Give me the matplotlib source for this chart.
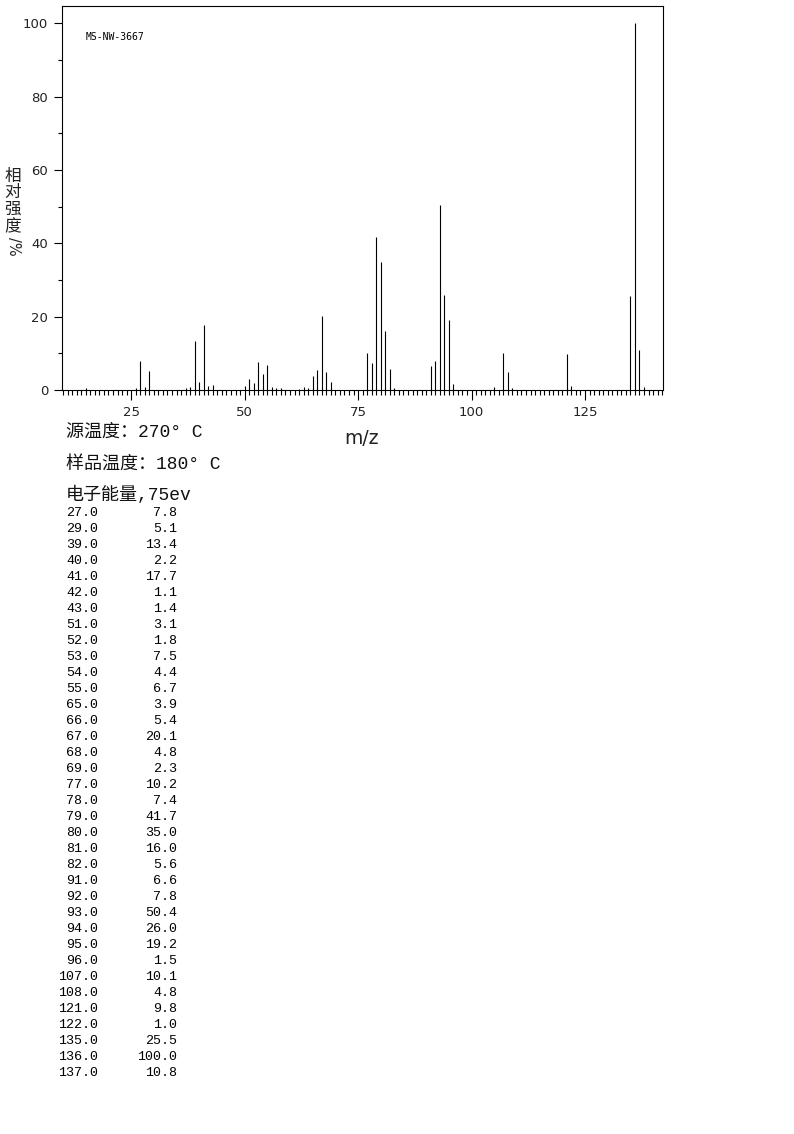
import numpy as np
import matplotlib
matplotlib.use("Agg")
import matplotlib.pyplot as plt
from matplotlib.ticker import MultipleLocator

# ---- data ----
mz_listed = [27, 29, 39, 40, 41, 42, 43, 51, 52, 53, 54, 55, 65, 66, 67, 68, 69,
             77, 78, 79, 80, 81, 82, 91, 92, 93, 94, 95, 96, 107, 108, 121, 122,
             135, 136, 137]
int_listed = [7.8, 5.1, 13.4, 2.2, 17.7, 1.1, 1.4, 3.1, 1.8, 7.5, 4.4, 6.7, 3.9,
              5.4, 20.1, 4.8, 2.3, 10.2, 7.4, 41.7, 35.0, 16.0, 5.6, 6.6, 7.8,
              50.4, 26.0, 19.2, 1.5, 10.1, 4.8, 9.8, 1.0, 25.5, 100.0, 10.8]
# small unlisted peaks
mz_minor = [15, 26, 28, 37, 38, 50, 56, 57, 58, 62, 63, 64, 83, 105, 109, 138]
int_minor = [0.6, 0.5, 0.7, 0.5, 0.8, 1.0, 0.7, 0.5, 0.5, 0.4, 0.8, 0.5, 0.6,
             0.8, 0.5, 0.7]

sample_id = "MS-NW-3667"
header_lines = ["源温度：270° C", "样品温度：180° C", "电子能量,75ev"]
xlabel = "m/z"
ylabel_cjk = ["相", "对", "强", "度"]
ylabel_unit = "/%"

W, H = 794, 1134
fig = plt.figure(figsize=(W / 100, H / 100), dpi=100)


def fx(x):
    return x / W


def fy(y):
    return 1 - y / H


ax = fig.add_axes([fx(62), fy(390), (663 - 62) / W, (390 - 6) / H])
ax.vlines(mz_listed, 0, int_listed, colors="black", linewidth=0.8)
ax.vlines(mz_minor, 0, int_minor, colors="black", linewidth=0.8)
ax.set_xlim(9.76, 142.18)
ax.set_ylim(0, 104.7)

ax.set_xticks(np.arange(25, 126, 25))
ax.xaxis.set_minor_locator(MultipleLocator(1))
ax.set_yticks(np.arange(0, 101, 20))
ax.yaxis.set_minor_locator(MultipleLocator(10))
ax.tick_params(axis="x", which="major", direction="out", length=7.2, width=0.8,
               pad=4, labelsize=9.5, labelcolor="#222222")
ax.tick_params(axis="x", which="minor", direction="out", length=3.6, width=0.8)
ax.tick_params(axis="y", which="major", direction="out", length=6, width=0.8,
               pad=4, labelsize=9.5, labelcolor="#222222")
ax.tick_params(axis="y", which="minor", direction="out", length=3, width=0.8)
for s in ax.spines.values():
    s.set_linewidth(0.8)

# sample id
fig.text(fx(86), fy(37), sample_id, fontsize=7, family="DejaVu Sans Mono",
         ha="left", va="center")

# axis labels
fig.text(fx(362), fy(444), xlabel, fontsize=13.5, family="DejaVu Sans",
         ha="center", va="baseline", color="#222222")
for i, ch in enumerate(ylabel_cjk):
    fig.text(fx(13), fy(176 + 16.8 * i), ch, fontsize=12,
             family=["Noto Sans CJK SC", "DejaVu Sans"], ha="center", va="center",
             color="#222222")
fig.text(fx(13), fy(246), ylabel_unit, fontsize=10.5, rotation=-90,
         family="DejaVu Sans", ha="center", va="center", color="#222222")

# header lines
fam_hdr = ["Liberation Mono", "Noto Sans CJK SC"]
for txt, yb in zip(header_lines, [437, 469, 500]):
    fig.text(fx(66), fy(yb), txt, fontsize=13, family=fam_hdr,
             ha="left", va="baseline", color="#111111")

# peak table
for i, (m, v) in enumerate(zip(mz_listed, int_listed)):
    yb = 515.7 + 16 * i
    fig.text(fx(98), fy(yb), f"{m:.1f}", fontsize=9.6, family="Liberation Mono",
             ha="right", va="baseline")
    fig.text(fx(177), fy(yb), f"{v:.1f}", fontsize=9.6, family="Liberation Mono",
             ha="right", va="baseline")

fig.savefig("out.png", dpi=100)
